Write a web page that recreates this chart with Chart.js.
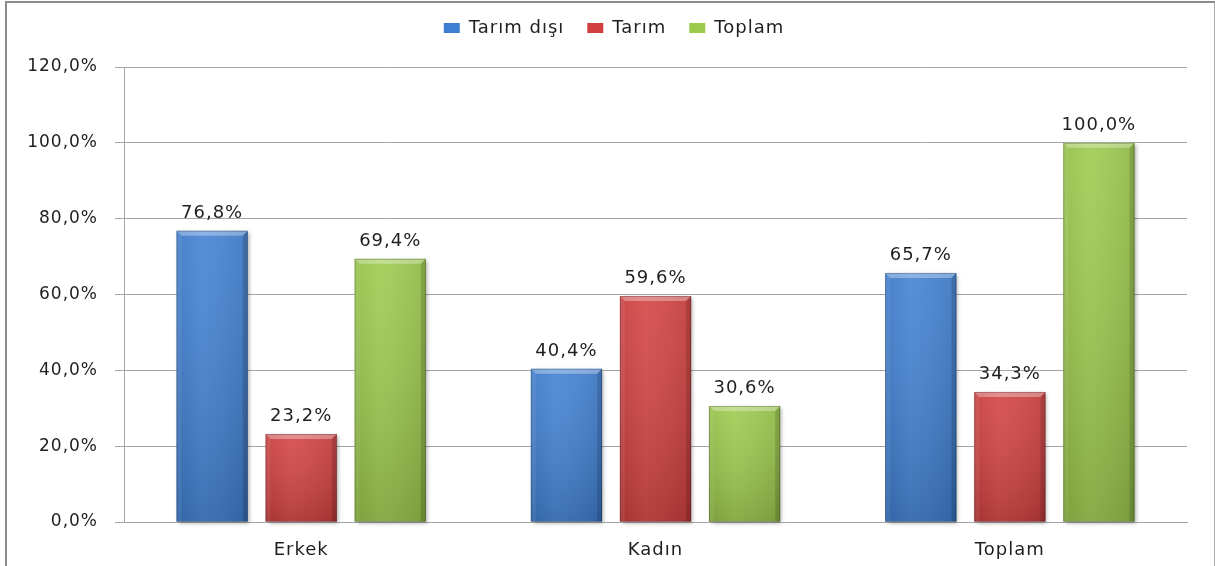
<!DOCTYPE html>
<html>
<head>
<meta charset="utf-8">
<script src="https://cdn.jsdelivr.net/npm/chart.js@4/dist/chart.umd.min.js"></script>
<style>
  html, body { margin: 0; padding: 0; background: #ffffff; overflow: hidden; }
  #wrap { position: absolute; left: 0; top: 0; width: 1215px; height: 566px; }
  #frame { position: absolute; left: 5px; top: 1px; width: 1207px; height: 700px;
           border-left: 2px solid #8c8c8c; border-top: 2px solid #8c8c8c; border-right: 2px solid #a8a8a8;
           pointer-events: none; }
</style>
</head>
<body>
<div id="wrap"><canvas id="c"></canvas></div>
<div id="frame"></div>
<script>
// ---- data ----
const categories = ['Erkek', 'Kadın', 'Toplam'];
const seriesNames = ['Tarım dışı', 'Tarım', 'Toplam'];
const tarimDisi = [76.8, 40.4, 65.7];
const tarim = [23.2, 59.6, 34.3];
const toplam = [69.4, 30.6, 100.0];
const yMin = 0, yMax = 120, yStep = 20;

const colors = ['#3f7fd2', '#d23f3f', '#9bc94b'];
const FONT = 'DejaVu Sans';
const TEXT = '#1f1f1f';
const fmt = v => v.toFixed(1).replace('.', ',') + '%';

const eachBar = (chart, fn) => {
  chart.data.datasets.forEach((ds, i) => {
    chart.getDatasetMeta(i).data.forEach((bar, j) => {
      fn(bar.getProps(['x', 'y', 'base', 'width'], true), ds.data[j]);
    });
  });
};

const barStyle = {
  id: 'barStyle',
  beforeLayout(chart) {
    const lg = chart.legend;
    if (lg && !lg._patched) {
      lg._patched = true;
      const of = lg.fit;
      lg.fit = function () { of.call(this); this.height = 57; };
      const od = lg.draw;
      lg.draw = function () {
        const dx = 10, dy = -14;
        this.left += dx; this.right += dx; this.top += dy; this.bottom += dy;
        od.call(this);
        this.left -= dx; this.right -= dx; this.top -= dy; this.bottom -= dy;
      };
    }
  },
  beforeDraw(chart) { chart.ctx.letterSpacing = '1px'; },
  beforeDatasetsDraw(chart) {
    const ctx = chart.ctx;
    ctx.save();
    ctx.shadowColor = 'rgba(0,0,0,0.35)';
    ctx.shadowBlur = 4; ctx.shadowOffsetX = 2; ctx.shadowOffsetY = 1;
    ctx.fillStyle = '#ffffff';
    eachBar(chart, p => {
      ctx.fillRect(p.x - p.width / 2 + 1, p.y + 1, p.width - 2, p.base - p.y - 1);
    });
    ctx.restore();
  },
  afterDatasetsDraw(chart) {
    const ctx = chart.ctx;
    ctx.save();
    eachBar(chart, (p, v) => {
      const l = p.x - p.width / 2, r = p.x + p.width / 2, t = p.y, b = p.base;
      const e = 5;
      let g = ctx.createLinearGradient(0, t, 0, b);
      g.addColorStop(0, 'rgba(255,255,255,0.08)');
      g.addColorStop(1, 'rgba(0,0,0,0.16)');
      ctx.fillStyle = g; ctx.fillRect(l, t, r - l, b - t);
      g = ctx.createLinearGradient(l, 0, r, 0);
      g.addColorStop(0, 'rgba(0,0,0,0.05)');
      g.addColorStop(0.35, 'rgba(255,255,255,0.05)');
      g.addColorStop(1, 'rgba(0,0,0,0.08)');
      ctx.fillStyle = g; ctx.fillRect(l, t, r - l, b - t);
      const poly = (pts, c) => { ctx.beginPath(); ctx.moveTo(pts[0][0], pts[0][1]); for (let k = 1; k < pts.length; k++) ctx.lineTo(pts[k][0], pts[k][1]); ctx.closePath(); ctx.fillStyle = c; ctx.fill(); };
      poly([[l, t], [r, t], [r - e, t + e], [l + e, t + e]], 'rgba(255,255,255,0.32)');
      poly([[l, t], [l + e, t + e], [l + e, b], [l, b]], 'rgba(255,255,255,0.07)');
      poly([[r, t], [r - e, t + e], [r - e, b], [r, b]], 'rgba(0,0,0,0.14)');
      ctx.strokeStyle = 'rgba(0,0,0,0.22)'; ctx.lineWidth = 1;
      ctx.strokeRect(l + 0.5, t + 0.5, r - l - 1, b - t - 0.5);
      ctx.fillStyle = TEXT;
      ctx.font = '18px "' + FONT + '"';
      ctx.letterSpacing = '1px';
      ctx.textAlign = 'center';
      ctx.textBaseline = 'alphabetic';
      ctx.fillText(fmt(v), p.x, t - 13);
    });
    ctx.restore();
  }
};

new Chart(document.getElementById('c'), {
  type: 'bar',
  data: {
    labels: categories,
    datasets: [
      { label: seriesNames[0], data: tarimDisi, backgroundColor: colors[0] },
      { label: seriesNames[1], data: tarim, backgroundColor: colors[1] },
      { label: seriesNames[2], data: toplam, backgroundColor: colors[2] }
    ]
  },
  options: {
    responsive: true,
    maintainAspectRatio: false,
    animation: false,
    devicePixelRatio: 1,
    layout: { padding: { left: 0, right: 28, top: 10, bottom: 0 } },
    datasets: { bar: { barPercentage: 0.8, categoryPercentage: 0.754, borderWidth: 0 } },
    plugins: {
      legend: {
        position: 'top',
        labels: { font: { family: FONT, size: 18 }, color: TEXT, boxWidth: 16, boxHeight: 10, padding: 23 }
      },
      tooltip: { enabled: false }
    },
    scales: {
      x: {
        grid: { display: false },
        border: { display: true, color: '#a6a6a6' },
        ticks: { font: { family: FONT, size: 18 }, color: TEXT, padding: 10 },
        afterFit: s => { s.height = 44; }
      },
      y: {
        min: yMin, max: yMax,
        ticks: { stepSize: yStep, callback: v => fmt(v), font: { family: FONT, size: 17 }, color: TEXT, padding: 17 },
        grid: { color: '#a6a6a6', tickLength: 9, drawTicks: true },
        border: { display: true, color: '#a6a6a6' },
        afterFit: s => { s.width = 124; }
      }
    }
  },
  plugins: [barStyle]
});
</script>
</body>
</html>
